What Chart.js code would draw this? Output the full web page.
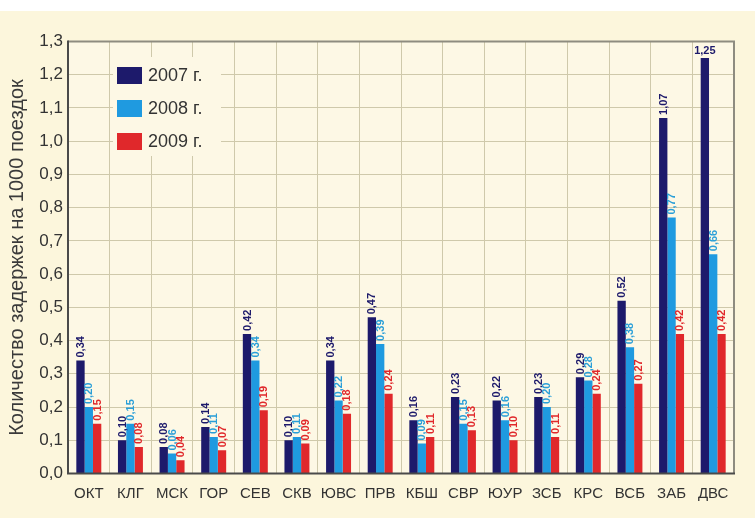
<!DOCTYPE html>
<html>
<head>
<meta charset="utf-8">
<script src="https://cdn.jsdelivr.net/npm/chart.js@4"></script>
<style>
  html, body { margin: 0; padding: 0; background: #ffffff; }
  #wrap { position: absolute; left: 0; top: 0; width: 755px; height: 518px; }
</style>
</head>
<body>
<div id="wrap"><canvas id="c" width="755" height="518"></canvas></div>
<script>
// Railways (abbreviated names)
const categories = ['ОКТ','КЛГ','МСК','ГОР','СЕВ','СКВ','ЮВС','ПРВ','КБШ','СВР','ЮУР','ЗСБ','КРС','ВСБ','ЗАБ','ДВС'];
const seriesNames = ['2007 г.', '2008 г.', '2009 г.'];
// Delays per 1000 trains
const values2007 = [0.34, 0.10, 0.08, 0.14, 0.42, 0.10, 0.34, 0.47, 0.16, 0.23, 0.22, 0.23, 0.29, 0.52, 1.07, 1.25];
const values2008 = [0.20, 0.15, 0.06, 0.11, 0.34, 0.11, 0.22, 0.39, 0.09, 0.15, 0.16, 0.20, 0.28, 0.38, 0.77, 0.66];
const values2009 = [0.15, 0.08, 0.04, 0.07, 0.19, 0.09, 0.18, 0.24, 0.11, 0.13, 0.10, 0.11, 0.24, 0.27, 0.42, 0.42];
const yTicks = { min: 0, max: 1.3, step: 0.1 };
const yTitle = 'Количество задержек на 1000 поездок';

const barColors = ['#1d1a6b', '#1f9ae0', '#e0282b'];
const labelColors = ['#1d1a6b', '#2a9fd8', '#e0282b'];
const FONT = '"Liberation Sans", Arial, sans-serif';
const fmt = v => v.toFixed(2).replace('.', ',');

// Page and plot backgrounds, outer plot frame
const backgroundPlugin = {
  id: 'bg',
  beforeDraw(chart) {
    const { ctx, chartArea: a } = chart;
    ctx.save();
    ctx.fillStyle = '#ffffff';
    ctx.fillRect(0, 0, chart.width, chart.height);
    ctx.fillStyle = '#fcf6dc';
    ctx.fillRect(0, 11, chart.width, chart.height - 11);
    ctx.fillStyle = '#fdf8e5';
    ctx.fillRect(a.left, a.top, a.right - a.left, a.bottom - a.top);
    ctx.restore();
  },
  afterDraw(chart) {
    const { ctx, chartArea: a } = chart;
    ctx.save();
    ctx.strokeStyle = '#8e8c80';
    ctx.lineWidth = 2;
    ctx.beginPath();
    ctx.moveTo(a.left, a.top);
    ctx.lineTo(a.right, a.top);
    ctx.lineTo(a.right, a.bottom);
    ctx.stroke();
    ctx.strokeStyle = '#4a4a4a';
    ctx.beginPath();
    ctx.moveTo(a.left, a.top - 1);
    ctx.lineTo(a.left, a.bottom);
    ctx.lineTo(a.right + 1, a.bottom);
    ctx.stroke();
    ctx.restore();
  }
};

// Value labels above every bar (rotated; horizontal when there is no room)
const valueLabelPlugin = {
  id: 'valueLabels',
  afterDatasetsDraw(chart) {
    const { ctx, chartArea: a } = chart;
    ctx.save();
    ctx.font = 'bold 11px ' + FONT;
    chart.data.datasets.forEach((ds, di) => {
      const meta = chart.getDatasetMeta(di);
      meta.data.forEach((bar, i) => {
        const text = fmt(ds.data[i]);
        const w = ctx.measureText(text).width;
        ctx.fillStyle = labelColors[di];
        if (bar.y - w - 3 < a.top) {
          ctx.textAlign = 'center';
          ctx.textBaseline = 'bottom';
          ctx.fillText(text, bar.x, bar.y - 2);
        } else {
          ctx.save();
          ctx.translate(bar.x + 0.5, bar.y - 3);
          ctx.rotate(-Math.PI / 2);
          ctx.textAlign = 'left';
          ctx.textBaseline = 'middle';
          ctx.fillText(text, 0, 0);
          ctx.restore();
        }
      });
    });
    ctx.restore();
  }
};

// Legend box inside the plot, upper left
const legendPlugin = {
  id: 'boxLegend',
  afterDatasetsDraw(chart) {
    const { ctx } = chart;
    ctx.save();
    ctx.fillStyle = '#fdf8e5';
    ctx.fillRect(113, 57, 108, 99);
    ctx.font = '18px ' + FONT;
    ctx.textBaseline = 'middle';
    ctx.textAlign = 'left';
    chart.data.datasets.forEach((ds, i) => {
      const y = 75 + i * 33;
      ctx.fillStyle = ds.backgroundColor;
      ctx.fillRect(117, y - 8, 25, 17);
      ctx.fillStyle = '#333333';
      ctx.fillText(ds.label, 148, y + 1);
    });
    ctx.restore();
  }
};

const datasets = [values2007, values2008, values2009].map((vals, i) => ({
  label: seriesNames[i],
  data: vals,
  backgroundColor: barColors[i],
  borderWidth: 0,
  barPercentage: 1.0,
  categoryPercentage: 0.6
}));

new Chart(document.getElementById('c'), {
  type: 'bar',
  data: { labels: categories, datasets },
  plugins: [backgroundPlugin, valueLabelPlugin, legendPlugin],
  options: {
    responsive: false,
    animation: false,
    devicePixelRatio: 1,
    layout: { padding: { top: 41.5, right: 21, left: 0, bottom: 0 } },
    plugins: { legend: { display: false }, tooltip: { enabled: false } },
    scales: {
      x: {
        afterFit(scale) { scale.height = 44.5; },
        grid: { color: '#cfc9ab', lineWidth: 1, drawTicks: false, offset: true },
        border: { display: false },
        ticks: { color: '#333333', font: { family: FONT, size: 15 }, padding: 11, maxRotation: 0, autoSkip: false }
      },
      y: {
        min: yTicks.min,
        max: yTicks.max,
        afterFit(scale) { scale.width = 68; },
        grid: { color: '#cfc9ab', lineWidth: 1, drawTicks: false },
        border: { display: false },
        ticks: {
          stepSize: yTicks.step,
          color: '#333333',
          font: { family: FONT, size: 17 },
          padding: 5,
          callback: v => v.toFixed(1).replace('.', ',')
        },
        title: {
          display: true,
          text: yTitle,
          color: '#3a3a3a',
          font: { family: FONT, size: 20 },
          padding: { top: 5, bottom: 0 }
        }
      }
    }
  }
});
</script>
</body>
</html>
